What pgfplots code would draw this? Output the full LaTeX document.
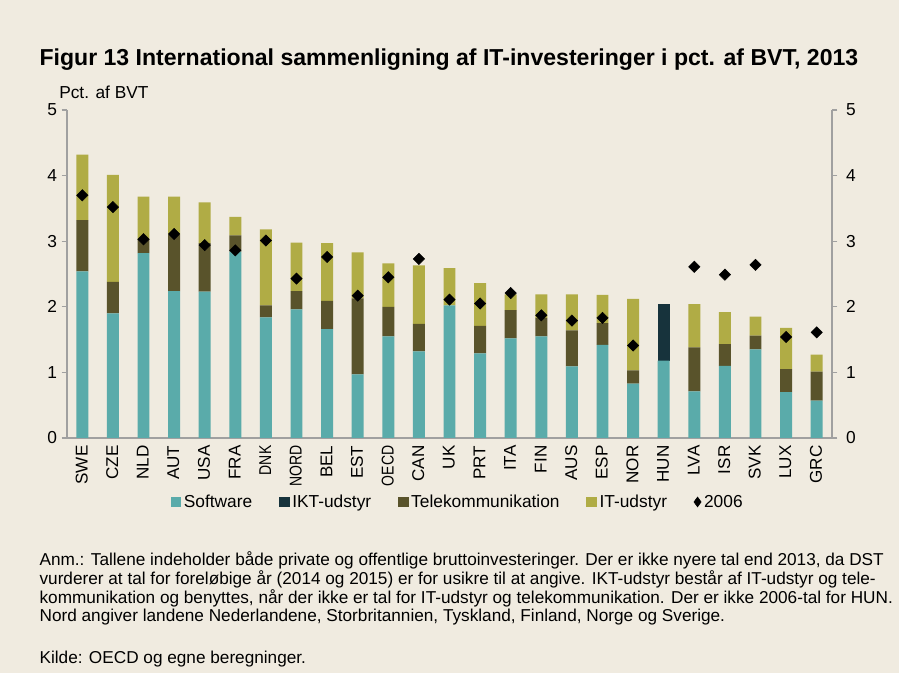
\documentclass[border=0pt]{standalone}
\usepackage{fontspec}
\setmainfont{Liberation Sans}
\newfontfamily\narrow{Liberation Sans}[FakeStretch=0.82]
\usepackage{pgfplots}
\pgfplotsset{compat=1.18}
\usepackage{pgfplotstable}
\definecolor{bg}{HTML}{F0EBE0}
\definecolor{soft}{HTML}{5AABAA}
\definecolor{ikt}{HTML}{17333C}
\definecolor{tele}{HTML}{59532B}
\definecolor{itu}{HTML}{B0AC45}
\definecolor{axgray}{HTML}{A0A0A0}
\pgfplotstableread{
x  cat   soft  ikt   tele  itu   d06
0  SWE   2.54  0     0.78  1.00  3.70
1  CZE   1.90  0     0.48  1.63  3.52
2  NLD   2.82  0     0.21  0.65  3.03
3  AUT   2.24  0     0.86  0.58  3.11
4  USA   2.23  0     0.74  0.62  2.94
5  FRA   2.84  0     0.25  0.28  2.86
6  DNK   1.84  0     0.18  1.16  3.01
7  NORD  1.96  0     0.28  0.74  2.43
8  BEL   1.66  0     0.43  0.88  2.76
9  EST   0.97  0     1.16  0.70  2.17
10 OECD  1.55  0     0.45  0.66  2.45
11 CAN   1.32  0     0.42  0.89  2.73
12 UK    2.02  0     0.00  0.57  2.11
13 PRT   1.29  0     0.42  0.65  2.05
14 ITA   1.52  0     0.43  0.24  2.21
15 FIN   1.55  0     0.28  0.36  1.87
16 AUS   1.09  0     0.55  0.55  1.79
17 ESP   1.42  0     0.33  0.43  1.83
18 NOR   0.83  0     0.20  1.09  1.41
19 HUN   1.18  0.86  0     0     nan
20 LVA   0.71  0     0.67  0.66  2.61
21 ISR   1.10  0     0.33  0.49  2.49
22 SVK   1.35  0     0.21  0.29  2.64
23 LUX   0.70  0     0.35  0.63  1.54
24 GRC   0.57  0     0.44  0.26  1.61
}\data
\pgfplotsset{
  common/.style={
    at={(50.25pt,176.25pt)}, anchor=south west,
    scale only axis, width=573.75pt, height=246pt,
    xmin=-0.5, xmax=24.5, ymin=0, ymax=5,
    axis line style={axgray, line width=1.2pt},
    ytick={0,1,2,3,4,5},
    tick align=outside, major tick length=4pt,
    y tick style={axgray, line width=0.8pt},
    yticklabel style={font=\fontsize{13}{14}\selectfont},
    /pgf/number format/assume math mode=true,
  }
}
\begin{document}
\begin{tikzpicture}
\fill[bg] (0pt,0pt) rectangle (674.25pt,504.75pt);
\useasboundingbox (0pt,0pt) rectangle (674.25pt,504.75pt);
\node[anchor=west,font=\bfseries\fontsize{17.3}{20}\selectfont,inner sep=0pt] at (29.5pt,459.75pt) {Figur 13 International sammenligning af IT-investeringer i pct. af BVT, 2013};
\node[anchor=west,font=\fontsize{13}{14}\selectfont,inner sep=0pt] at (44.25pt,435.75pt) {Pct. af BVT};
\begin{axis}[common,
  ybar stacked, bar width=0.39,
  axis x line*=bottom, axis y line*=left,
  xtick={0,...,24},
  xticklabels={SWE,CZE,NLD,AUT,USA,FRA,{\narrow DNK},{\narrow NORD},BEL,EST,{\narrow OECD},CAN,UK,PRT,ITA,FIN,AUS,ESP,NOR,HUN,LVA,ISR,SVK,LUX,GRC},
  x tick style={draw=none},
  minor xtick={0.5,1.5,...,23.5},
  minor x tick style={axgray, line width=0.8pt},
  minor tick length=4pt,
  xticklabel style={rotate=90, anchor=east, font=\fontsize{12.8}{13}\selectfont, inner sep=1.5pt, yshift=0.5pt},
  legend style={at={(0.511,-0.195)}, anchor=center, draw=none, fill=none,
    font=\fontsize{13}{13}\selectfont, legend columns=5,
    /tikz/every even column/.append style={column sep=18pt}},
  clip=false,
]
\addplot[fill=soft, draw=none, legend image code/.code={\fill[soft] (0pt,-4pt) rectangle (8pt,4pt);}] table[x=x, y=soft] {\data};
\addlegendentry{Software}
\addplot[fill=ikt, draw=none, legend image code/.code={\fill[ikt] (0pt,-4pt) rectangle (8pt,4pt);}] table[x=x, y=ikt] {\data};
\addlegendentry{IKT-udstyr}
\addplot[fill=tele, draw=none, legend image code/.code={\fill[tele] (0pt,-4pt) rectangle (8pt,4pt);}] table[x=x, y=tele] {\data};
\addlegendentry{Telekommunikation}
\addplot[fill=itu, draw=none, legend image code/.code={\fill[itu] (0pt,-4pt) rectangle (8pt,4pt);}] table[x=x, y=itu] {\data};
\addlegendentry{IT-udstyr}
\addlegendimage{legend image code/.code={\fill[black] (4pt,0pt) -- (6.7pt,-3.7pt) -- (9.4pt,0pt) -- (6.7pt,3.7pt) -- cycle;}}
\addlegendentry{2006}
\end{axis}
\begin{axis}[common,
  axis x line=none, axis y line*=right,
  yticklabel style={xshift=3pt},
  clip=false,
]
\addplot[only marks, mark=square*, mark size=3pt, mark options={fill=black, draw=black, rotate=45}] table[x=x, y=d06] {\data};
\end{axis}
\begin{scope}[every node/.style={anchor=west, inner sep=0pt, font=\fontsize{12.9}{13}\selectfont}]
\node at (29.5pt,{(673-560)*0.75pt}) {Anm.: Tallene indeholder både private og offentlige bruttoinvesteringer. Der er ikke nyere tal end 2013, da DST};
\node at (29.5pt,{(673-579)*0.75pt}) {vurderer at tal for foreløbige år (2014 og 2015) er for usikre til at angive. IKT-udstyr består af IT-udstyr og tele-};
\node at (29.5pt,{(673-598)*0.75pt}) {kommunikation og benyttes, når der ikke er tal for IT-udstyr og telekommunikation. Der er ikke 2006-tal for HUN.};
\node at (29.5pt,{(673-617)*0.75pt}) {Nord angiver landene Nederlandene, Storbritannien, Tyskland, Finland, Norge og Sverige.};
\node at (29.5pt,{(673-659)*0.75pt}) {Kilde: OECD og egne beregninger.};
\end{scope}
\end{tikzpicture}
\end{document}
